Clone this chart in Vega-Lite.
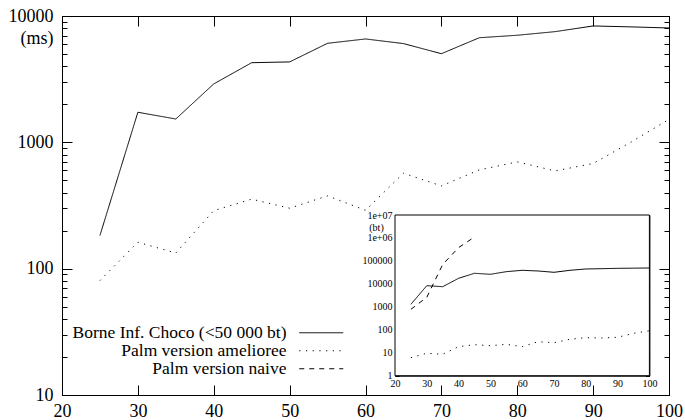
{
  "$schema": "https://vega.github.io/schema/vega-lite/v6.json",
  "width": 607,
  "height": 379,
  "autosize": {"type": "none"},
  "padding": {"left": 62, "top": 16, "right": 16, "bottom": 25},
  "background": "white",
  "config": {
    "view": {"stroke": "black", "strokeWidth": 1},
    "axis": {
      "grid": false, "domainColor": "black", "tickColor": "black", "labelColor": "black",
      "labelFont": "Liberation Serif", "titleFont": "Liberation Serif", "titleFontWeight": "normal",
      "titleColor": "black", "labelOverlap": false, "labelFlush": false, "labelBound": false,
      "tickWidth": 1, "domainWidth": 1
    },
    "legend": {
      "orient": "none", "legendX": 250.5, "legendY": 308, "padding": 0,
      "labelFont": "Liberation Serif", "labelFontSize": 17.5, "labelColor": "black",
      "labelAlign": "right", "labelOffset": -43.5, "symbolType": "M-4,0H4", "symbolSize": 121,
      "symbolStrokeColor": "black", "symbolStrokeWidth": 1, "symbolFillColor": "transparent",
      "labelLimit": 400
    }
  },
  "datasets": {
    "main": [
      {"x": 25, "ms": 183, "series": "Borne Inf. Choco (<50 000 bt)"},
      {"x": 30, "ms": 1730, "series": "Borne Inf. Choco (<50 000 bt)"},
      {"x": 35, "ms": 1530, "series": "Borne Inf. Choco (<50 000 bt)"},
      {"x": 40, "ms": 2900, "series": "Borne Inf. Choco (<50 000 bt)"},
      {"x": 45, "ms": 4270, "series": "Borne Inf. Choco (<50 000 bt)"},
      {"x": 50, "ms": 4330, "series": "Borne Inf. Choco (<50 000 bt)"},
      {"x": 55, "ms": 6080, "series": "Borne Inf. Choco (<50 000 bt)"},
      {"x": 60, "ms": 6580, "series": "Borne Inf. Choco (<50 000 bt)"},
      {"x": 65, "ms": 6050, "series": "Borne Inf. Choco (<50 000 bt)"},
      {"x": 70, "ms": 5030, "series": "Borne Inf. Choco (<50 000 bt)"},
      {"x": 75, "ms": 6730, "series": "Borne Inf. Choco (<50 000 bt)"},
      {"x": 80, "ms": 7040, "series": "Borne Inf. Choco (<50 000 bt)"},
      {"x": 85, "ms": 7520, "series": "Borne Inf. Choco (<50 000 bt)"},
      {"x": 90, "ms": 8340, "series": "Borne Inf. Choco (<50 000 bt)"},
      {"x": 95, "ms": 8200, "series": "Borne Inf. Choco (<50 000 bt)"},
      {"x": 100, "ms": 8040, "series": "Borne Inf. Choco (<50 000 bt)"},
      {"x": 25, "ms": 80.5, "series": "Palm version amelioree"},
      {"x": 30, "ms": 162, "series": "Palm version amelioree"},
      {"x": 35, "ms": 133, "series": "Palm version amelioree"},
      {"x": 40, "ms": 288, "series": "Palm version amelioree"},
      {"x": 45, "ms": 355, "series": "Palm version amelioree"},
      {"x": 50, "ms": 301, "series": "Palm version amelioree"},
      {"x": 55, "ms": 377, "series": "Palm version amelioree"},
      {"x": 60, "ms": 290, "series": "Palm version amelioree"},
      {"x": 65, "ms": 569, "series": "Palm version amelioree"},
      {"x": 70, "ms": 452, "series": "Palm version amelioree"},
      {"x": 75, "ms": 605, "series": "Palm version amelioree"},
      {"x": 80, "ms": 700, "series": "Palm version amelioree"},
      {"x": 85, "ms": 594, "series": "Palm version amelioree"},
      {"x": 90, "ms": 680, "series": "Palm version amelioree"},
      {"x": 95, "ms": 1005, "series": "Palm version amelioree"},
      {"x": 100, "ms": 1520, "series": "Palm version amelioree"}
    ],
    "inset": [
      {"x": 25, "bt": 1290, "series": "Borne Inf. Choco (<50 000 bt)"},
      {"x": 30, "bt": 8340, "series": "Borne Inf. Choco (<50 000 bt)"},
      {"x": 35, "bt": 7530, "series": "Borne Inf. Choco (<50 000 bt)"},
      {"x": 40, "bt": 17500, "series": "Borne Inf. Choco (<50 000 bt)"},
      {"x": 45, "bt": 28900, "series": "Borne Inf. Choco (<50 000 bt)"},
      {"x": 50, "bt": 26100, "series": "Borne Inf. Choco (<50 000 bt)"},
      {"x": 55, "bt": 34000, "series": "Borne Inf. Choco (<50 000 bt)"},
      {"x": 60, "bt": 39000, "series": "Borne Inf. Choco (<50 000 bt)"},
      {"x": 65, "bt": 36400, "series": "Borne Inf. Choco (<50 000 bt)"},
      {"x": 70, "bt": 31900, "series": "Borne Inf. Choco (<50 000 bt)"},
      {"x": 75, "bt": 39000, "series": "Borne Inf. Choco (<50 000 bt)"},
      {"x": 80, "bt": 44500, "series": "Borne Inf. Choco (<50 000 bt)"},
      {"x": 85, "bt": 45900, "series": "Borne Inf. Choco (<50 000 bt)"},
      {"x": 90, "bt": 47500, "series": "Borne Inf. Choco (<50 000 bt)"},
      {"x": 95, "bt": 48300, "series": "Borne Inf. Choco (<50 000 bt)"},
      {"x": 100, "bt": 49200, "series": "Borne Inf. Choco (<50 000 bt)"},
      {"x": 25, "bt": 6.1, "series": "Palm version amelioree"},
      {"x": 30, "bt": 9.5, "series": "Palm version amelioree"},
      {"x": 35, "bt": 8.6, "series": "Palm version amelioree"},
      {"x": 40, "bt": 18.4, "series": "Palm version amelioree"},
      {"x": 45, "bt": 22.4, "series": "Palm version amelioree"},
      {"x": 50, "bt": 20.3, "series": "Palm version amelioree"},
      {"x": 55, "bt": 23.2, "series": "Palm version amelioree"},
      {"x": 60, "bt": 18.4, "series": "Palm version amelioree"},
      {"x": 65, "bt": 30.3, "series": "Palm version amelioree"},
      {"x": 70, "bt": 27.4, "series": "Palm version amelioree"},
      {"x": 75, "bt": 38.6, "series": "Palm version amelioree"},
      {"x": 80, "bt": 45.3, "series": "Palm version amelioree"},
      {"x": 85, "bt": 44, "series": "Palm version amelioree"},
      {"x": 90, "bt": 47, "series": "Palm version amelioree"},
      {"x": 95, "bt": 70, "series": "Palm version amelioree"},
      {"x": 100, "bt": 91, "series": "Palm version amelioree"},
      {"x": 25, "bt": 780, "series": "Palm version naive"},
      {"x": 30, "bt": 2600, "series": "Palm version naive"},
      {"x": 35, "bt": 70000, "series": "Palm version naive"},
      {"x": 40, "bt": 380000, "series": "Palm version naive"},
      {"x": 45, "bt": 1100000, "series": "Palm version naive"}
    ]
  },
  "layer": [
    {
      "layer": [
        {
          "data": {"name": "main"},
          "mark": {"type": "line", "color": "black", "strokeWidth": 1},
          "encoding": {
            "x": {
              "field": "x", "type": "quantitative",
              "scale": {"domain": [20, 100], "nice": false, "zero": false},
              "axis": {"orient": "bottom", "values": [20, 30, 40, 50, 60, 70, 80, 90, 100], "tickSize": -10, "labelPadding": 17, "labelFontSize": 18, "title": null}
            },
            "y": {
              "field": "ms", "type": "quantitative",
              "scale": {"type": "log", "domain": [10, 10000], "nice": false},
              "axis": {
                "orient": "left",
                "values": [10, 20, 30, 40, 50, 60, 70, 80, 90, 100, 200, 300, 400, 500, 600, 700, 800, 900, 1000, 2000, 3000, 4000, 5000, 6000, 7000, 8000, 9000, 10000],
                "format": "d",
                "labelExpr": "indexof([10, 100, 1000, 10000], datum.value) >= 0 ? datum.label : ''",
                "tickSize": {"condition": {"test": "indexof([10, 100, 1000, 10000], datum.value) >= 0", "value": -10}, "value": -5},
                "labelPadding": 19, "labelFontSize": 18,
                "title": "(ms)", "titleAngle": 0, "titleAlign": "right", "titleBaseline": "middle",
                "titleX": -9, "titleY": 22, "titleFontSize": 18, "titlePadding": 0
              }
            },
            "strokeDash": {
              "field": "series", "type": "nominal",
              "scale": {
                "domain": ["Borne Inf. Choco (<50 000 bt)", "Palm version amelioree", "Palm version naive"],
                "range": [[1, 0], [1.2, 5.5], [5, 5]]
              },
              "legend": {"title": null, "rowPadding": -4}
            }
          }
        },
        {
          "data": {"name": "main"},
          "mark": {"type": "point", "opacity": 0},
          "encoding": {
            "x": {
              "field": "x", "type": "quantitative",
              "axis": {"orient": "top", "values": [20, 30, 40, 50, 60, 70, 80, 90, 100], "tickSize": -10, "labels": false, "title": null}
            },
            "y": {
              "field": "ms", "type": "quantitative",
              "axis": {
                "orient": "right", "labels": false, "title": null,
                "values": [10, 20, 30, 40, 50, 60, 70, 80, 90, 100, 200, 300, 400, 500, 600, 700, 800, 900, 1000, 2000, 3000, 4000, 5000, 6000, 7000, 8000, 9000, 10000],
                "tickSize": {"condition": {"test": "indexof([10, 100, 1000, 10000], datum.value) >= 0", "value": -10}, "value": -5}
              }
            }
          }
        }
      ],
      "resolve": {"axis": {"x": "independent", "y": "independent"}}
    },
    {
      "layer": [
        {
          "data": {"values": [{}]},
          "mark": {"type": "rect", "fill": "white", "stroke": "black", "strokeWidth": 1},
          "encoding": {
            "x": {
              "datum": 20, "type": "quantitative",
              "scale": {"domain": [20, 100], "nice": false, "zero": false, "range": [333, 587.4]},
              "axis": {"orient": "top", "offset": -199, "values": [20, 30, 40, 50, 60, 70, 80, 90, 100], "tickSize": -4, "labels": false, "title": null}
            },
            "x2": {"datum": 100},
            "y": {
              "datum": 1, "type": "quantitative",
              "scale": {"type": "log", "domain": [1, 10000000], "nice": false, "range": [359.7, 199]},
              "axis": {
                "orient": "right", "offset": -19.6, "labels": false, "title": null,
                "values": [1, 2, 3, 4, 5, 6, 7, 8, 9, 10, 20, 30, 40, 50, 60, 70, 80, 90, 100, 200, 300, 400, 500, 600, 700, 800, 900, 1000, 2000, 3000, 4000, 5000, 6000, 7000, 8000, 9000, 10000, 20000, 30000, 40000, 50000, 60000, 70000, 80000, 90000, 100000, 200000, 300000, 400000, 500000, 600000, 700000, 800000, 900000, 1000000, 2000000, 3000000, 4000000, 5000000, 6000000, 7000000, 8000000, 9000000, 10000000],
                "tickSize": {"condition": {"test": "indexof([1, 10, 100, 1000, 10000, 100000, 1000000, 10000000], datum.value) >= 0", "value": -4}, "value": -2}
              }
            },
            "y2": {"datum": 10000000}
          }
        },
        {
          "data": {"name": "inset"},
          "mark": {"type": "line", "color": "black", "strokeWidth": 1},
          "encoding": {
            "x": {
              "field": "x", "type": "quantitative",
              "axis": {"orient": "bottom", "offset": -19.3, "values": [20, 30, 40, 50, 60, 70, 80, 90, 100], "tickSize": -4, "labelPadding": 7, "labelFontSize": 10, "title": null}
            },
            "y": {
              "field": "bt", "type": "quantitative",
              "axis": {
                "orient": "left", "offset": -333,
                "values": [1, 2, 3, 4, 5, 6, 7, 8, 9, 10, 20, 30, 40, 50, 60, 70, 80, 90, 100, 200, 300, 400, 500, 600, 700, 800, 900, 1000, 2000, 3000, 4000, 5000, 6000, 7000, 8000, 9000, 10000, 20000, 30000, 40000, 50000, 60000, 70000, 80000, 90000, 100000, 200000, 300000, 400000, 500000, 600000, 700000, 800000, 900000, 1000000, 2000000, 3000000, 4000000, 5000000, 6000000, 7000000, 8000000, 9000000, 10000000],
                "format": "d",
                "labelExpr": "datum.value == 10000000 ? '1e+07' : datum.value == 1000000 ? '1e+06' : (indexof([1, 10, 100, 1000, 10000, 100000], datum.value) >= 0 ? datum.label : '')",
                "tickSize": {"condition": {"test": "indexof([1, 10, 100, 1000, 10000, 100000, 1000000, 10000000], datum.value) >= 0", "value": -4}, "value": -2},
                "labelPadding": 7, "labelFontSize": 10,
                "title": "(bt)", "titleAngle": 0, "titleAlign": "center", "titleBaseline": "middle",
                "titleX": -19, "titleY": 211, "titleFontSize": 10, "titlePadding": 0
              }
            },
            "strokeDash": {
              "field": "series", "type": "nominal",
              "scale": {
                "domain": ["Borne Inf. Choco (<50 000 bt)", "Palm version amelioree", "Palm version naive"],
                "range": [[1, 0], [1.2, 5.5], [5, 5]]
              },
              "legend": {"title": null, "rowPadding": -4}
            }
          }
        }
      ],
      "resolve": {"axis": {"x": "independent", "y": "independent"}}
    }
  ],
  "resolve": {"scale": {"x": "independent", "y": "independent"}}
}
